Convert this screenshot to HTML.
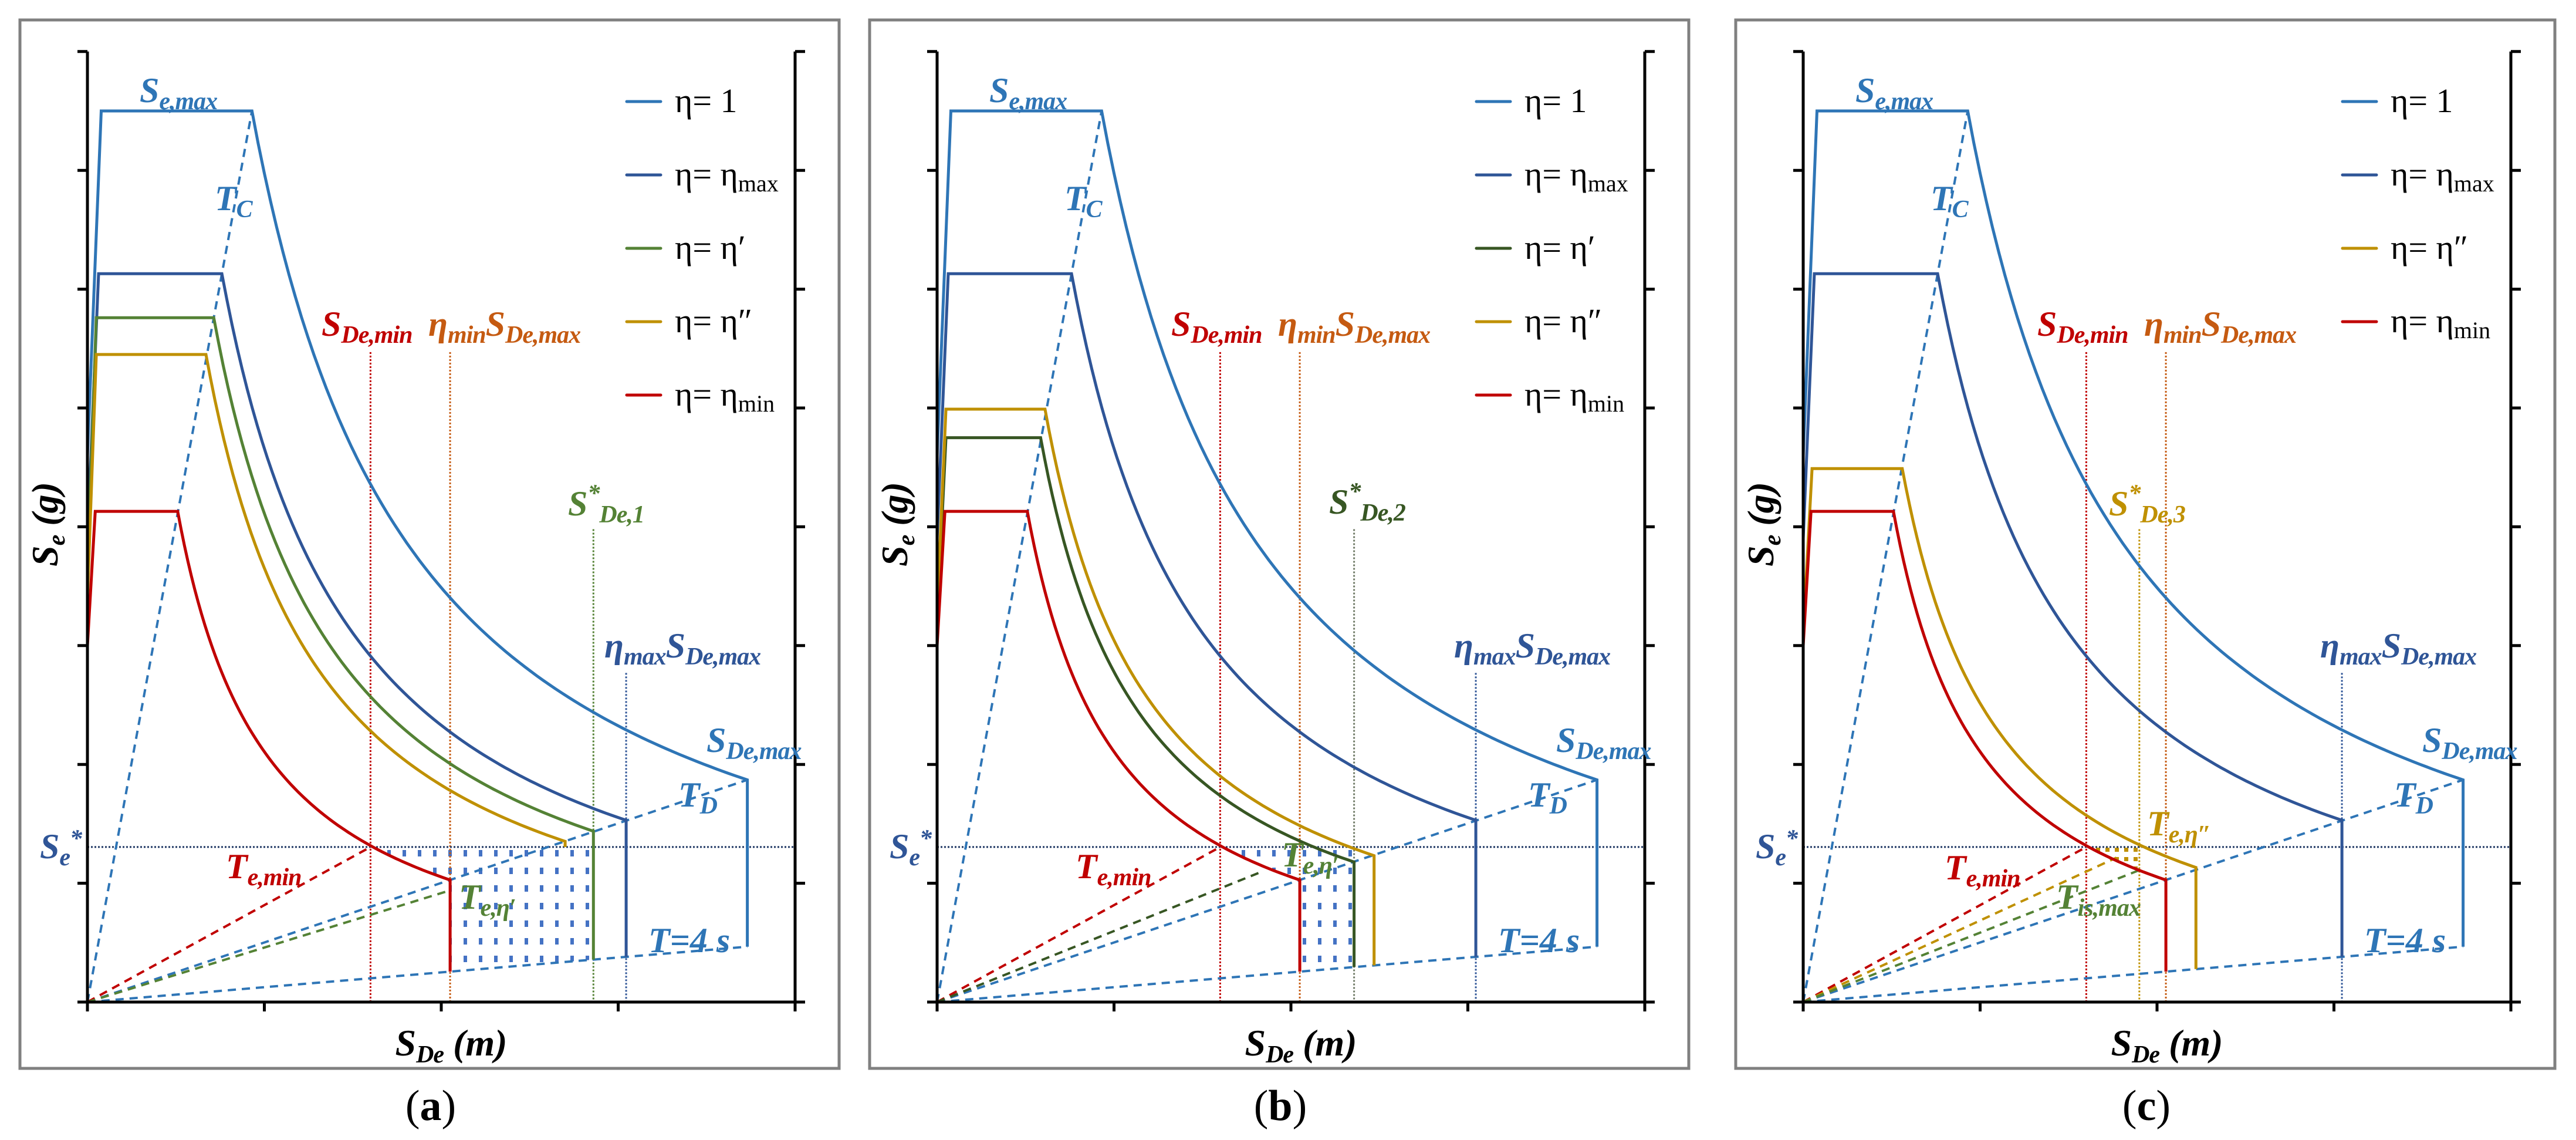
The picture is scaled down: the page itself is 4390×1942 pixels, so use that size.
<!DOCTYPE html>
<html><head><meta charset="utf-8"><title>ADRS spectra panels</title>
<style>
html,body{margin:0;padding:0;background:#fff;}
svg{display:block;}
.lbl{font-family:"Liberation Serif",serif;font-weight:bold;font-style:italic;font-size:60px;}
.sub{font-size:42px;letter-spacing:-1px;}
.leg{font-family:"Liberation Serif",serif;font-size:58px;fill:#000;}
.ttl{font-family:"Liberation Serif",serif;font-weight:bold;font-style:italic;font-size:64px;fill:#000;}
.cap{font-family:"Liberation Serif",serif;font-size:74px;fill:#000;}
</style></head>
<body>
<svg id="fig" xmlns="http://www.w3.org/2000/svg" width="4390" height="1942" viewBox="0 0 4390 1942">
<defs>
<pattern id="dotsBlue" width="26" height="30" patternUnits="userSpaceOnUse"><rect x="10" y="8" width="6" height="11" fill="#4472C4"/></pattern>
<pattern id="dotsGold" width="16" height="16" patternUnits="userSpaceOnUse"><rect x="4" y="4" width="7" height="7" fill="#BF9000"/></pattern>
</defs>
<rect x="0" y="0" width="4390" height="1942" fill="#fff"/>
<g id="plots"></g>

<g transform="translate(0,0)">
<text class="lbl" x="238" y="174" fill="#2E75B6">S<tspan class="sub" dy="12">e,max</tspan></text>
<text class="lbl" x="366" y="358" fill="#2E75B6">T<tspan class="sub" dy="12">C</tspan></text>
<text class="lbl" x="548" y="572" fill="#C00000">S<tspan class="sub" dy="12">De,min</tspan></text>
<text class="lbl" x="730" y="572" fill="#C55A11">η<tspan class="sub" dy="12">min</tspan><tspan dy="-12">S</tspan><tspan class="sub" dy="12">De,max</tspan></text>
<text class="lbl" x="968" y="878" fill="#548235">S<tspan class="sub" dy="-24">*</tspan><tspan class="sub" dy="36">De,1</tspan></text>
<text class="lbl" x="1030" y="1120" fill="#2F5597">η<tspan class="sub" dy="12">max</tspan><tspan dy="-12">S</tspan><tspan class="sub" dy="12">De,max</tspan></text>
<text class="lbl" x="1204" y="1281" fill="#2E75B6">S<tspan class="sub" dy="12">De,max</tspan></text>
<text class="lbl" x="1156" y="1374" fill="#2E75B6">T<tspan class="sub" dy="12">D</tspan></text>
<text class="lbl" x="68" y="1462" fill="#2F5597">S<tspan class="sub" dy="12">e</tspan><tspan class="sub" dy="-32">*</tspan></text>
<text class="lbl" x="385" y="1496" fill="#C00000">T<tspan class="sub" dy="12">e,min</tspan></text>
<text class="lbl" x="782" y="1548" fill="#548235">T<tspan class="sub" dy="12">e,η′</tspan></text>
<text class="lbl" x="1105" y="1622" fill="#2E75B6">T=4 s</text>
<text class="ttl" transform="translate(98,893) rotate(-90)" text-anchor="middle">S<tspan class="sub" dy="12">e</tspan><tspan dy="-12"> (g)</tspan></text>
<text class="ttl" x="769" y="1798" text-anchor="middle">S<tspan class="sub" dy="12">De</tspan><tspan dy="-12"> (m)</tspan></text>
<text class="cap" x="734" y="1908" text-anchor="middle">(<tspan font-weight="bold">a</tspan>)</text>
</g>

<g transform="translate(1448,0)">
<text class="lbl" x="238" y="174" fill="#2E75B6">S<tspan class="sub" dy="12">e,max</tspan></text>
<text class="lbl" x="366" y="358" fill="#2E75B6">T<tspan class="sub" dy="12">C</tspan></text>
<text class="lbl" x="548" y="572" fill="#C00000">S<tspan class="sub" dy="12">De,min</tspan></text>
<text class="lbl" x="730" y="572" fill="#C55A11">η<tspan class="sub" dy="12">min</tspan><tspan dy="-12">S</tspan><tspan class="sub" dy="12">De,max</tspan></text>
<text class="lbl" x="817" y="875" fill="#375623">S<tspan class="sub" dy="-24">*</tspan><tspan class="sub" dy="36">De,2</tspan></text>
<text class="lbl" x="1030" y="1120" fill="#2F5597">η<tspan class="sub" dy="12">max</tspan><tspan dy="-12">S</tspan><tspan class="sub" dy="12">De,max</tspan></text>
<text class="lbl" x="1204" y="1281" fill="#2E75B6">S<tspan class="sub" dy="12">De,max</tspan></text>
<text class="lbl" x="1156" y="1374" fill="#2E75B6">T<tspan class="sub" dy="12">D</tspan></text>
<text class="lbl" x="68" y="1462" fill="#2F5597">S<tspan class="sub" dy="12">e</tspan><tspan class="sub" dy="-32">*</tspan></text>
<text class="lbl" x="385" y="1496" fill="#C00000">T<tspan class="sub" dy="12">e,min</tspan></text>
<text class="lbl" x="736" y="1476" fill="#548235">T<tspan class="sub" dy="12">e,η′</tspan></text>
<text class="lbl" x="1105" y="1622" fill="#2E75B6">T=4 s</text>
<text class="ttl" transform="translate(98,893) rotate(-90)" text-anchor="middle">S<tspan class="sub" dy="12">e</tspan><tspan dy="-12"> (g)</tspan></text>
<text class="ttl" x="769" y="1798" text-anchor="middle">S<tspan class="sub" dy="12">De</tspan><tspan dy="-12"> (m)</tspan></text>
<text class="cap" x="734" y="1908" text-anchor="middle">(<tspan font-weight="bold">b</tspan>)</text>
</g>

<g transform="translate(2924,0)">
<text class="lbl" x="238" y="174" fill="#2E75B6">S<tspan class="sub" dy="12">e,max</tspan></text>
<text class="lbl" x="366" y="358" fill="#2E75B6">T<tspan class="sub" dy="12">C</tspan></text>
<text class="lbl" x="548" y="572" fill="#C00000">S<tspan class="sub" dy="12">De,min</tspan></text>
<text class="lbl" x="730" y="572" fill="#C55A11">η<tspan class="sub" dy="12">min</tspan><tspan dy="-12">S</tspan><tspan class="sub" dy="12">De,max</tspan></text>
<text class="lbl" x="670" y="878" fill="#BF9000">S<tspan class="sub" dy="-24">*</tspan><tspan class="sub" dy="36">De,3</tspan></text>
<text class="lbl" x="1030" y="1120" fill="#2F5597">η<tspan class="sub" dy="12">max</tspan><tspan dy="-12">S</tspan><tspan class="sub" dy="12">De,max</tspan></text>
<text class="lbl" x="1204" y="1281" fill="#2E75B6">S<tspan class="sub" dy="12">De,max</tspan></text>
<text class="lbl" x="1156" y="1374" fill="#2E75B6">T<tspan class="sub" dy="12">D</tspan></text>
<text class="lbl" x="68" y="1462" fill="#2F5597">S<tspan class="sub" dy="12">e</tspan><tspan class="sub" dy="-32">*</tspan></text>
<text class="lbl" x="390" y="1498" fill="#C00000">T<tspan class="sub" dy="12">e,min</tspan></text>
<text class="lbl" x="735" y="1423" fill="#BF9000">T<tspan class="sub" dy="12">e,η″</tspan></text>
<text class="lbl" x="580" y="1548" fill="#548235">T<tspan class="sub" dy="12">is,max</tspan></text>
<text class="lbl" x="1105" y="1622" fill="#2E75B6">T=4 s</text>
<text class="ttl" transform="translate(98,893) rotate(-90)" text-anchor="middle">S<tspan class="sub" dy="12">e</tspan><tspan dy="-12"> (g)</tspan></text>
<text class="ttl" x="769" y="1798" text-anchor="middle">S<tspan class="sub" dy="12">De</tspan><tspan dy="-12"> (m)</tspan></text>
<text class="cap" x="734" y="1908" text-anchor="middle">(<tspan font-weight="bold">c</tspan>)</text>
</g>
</svg>

<script>
// ---- data ----
const xTicks = [0, 1, 2, 3, 4];
const yTicks = [0, 1, 2, 3, 4, 5, 6, 7, 8];
const seStar = 1.305;
const tcEnd = [0.93, 7.5];
const tdEnd = [3.73, 1.87];
const t4End = [3.73, 0.466];

const aStart   = [4.6, 3.9, 3.6, 3.4, 3.0];
const aRise    = [0.078, 0.063, 0.05, 0.05, 0.044];
const aPlateau = [7.5, 6.13, 5.76, 5.45, 4.13];
const aCorner  = [0.93, 0.76, 0.714, 0.67, 0.51];
const aEnd     = [3.73, 3.045, 2.86, 2.70, 2.05];
const aDrop    = [0.466, 0.38, 0.357, 1.305, 0.256];
const aRefX    = [1.6, 2.05, 2.86, 3.045];
const aRefTop  = [5.47, 5.47, 3.98, 2.77];
const aDashX   = [1.6, 2.05];
const aDashY   = [1.305, 0.94];

const bStart   = [4.6, 3.9, 3.2, 3.3, 3.0];
const bRise    = [0.078, 0.063, 0.05, 0.05, 0.044];
const bPlateau = [7.5, 6.13, 4.75, 4.99, 4.13];
const bCorner  = [0.93, 0.76, 0.585, 0.61, 0.51];
const bEnd     = [3.73, 3.045, 2.357, 2.47, 2.05];
const bDrop    = [0.466, 0.38, 0.295, 0.309, 0.256];
const bRefX    = [1.6, 2.05, 2.357, 3.045];
const bRefTop  = [5.47, 5.47, 3.98, 2.77];
const bDashX   = [1.6, 1.84];
const bDashY   = [1.305, 1.10];

const cStart   = [4.6, 3.9, 3.1, 3.0];
const cRise    = [0.078, 0.063, 0.05, 0.044];
const cPlateau = [7.5, 6.13, 4.49, 4.13];
const cCorner  = [0.93, 0.76, 0.56, 0.51];
const cEnd     = [3.73, 3.045, 2.22, 2.05];
const cDrop    = [0.466, 0.38, 0.278, 0.256];
const cRefX    = [1.6, 2.05, 1.90, 3.045];
const cRefTop  = [5.47, 5.47, 3.98, 2.77];
const cDashX   = [1.6, 1.77, 1.90];
const cDashY   = [1.305, 1.215, 1.11];

const C1 = "#2E75B6", CMAX = "#2F5597", CG = "#548235", CDG = "#375623", CY = "#BF9000", CR = "#C00000", CO = "#C55A11", CN = "#203864";
const panels = [
  {ox:0, name:"a", start:aStart, rise:aRise, plateau:aPlateau, corner:aCorner, end:aEnd, drop:aDrop,
   colors:[C1,CMAX,CG,CY,CR], names:["eta-1","eta-max","eta-prime","eta-double-prime","eta-min"],
   legend:[["1",""],["η","max"],["η′",""],["η″",""],["η","min"]],
   refX:aRefX, refTop:aRefTop, refCol:[CR,CO,CG,CMAX], dashX:aDashX, dashY:aDashY, dashCol:[CR,CG],
   fill:{right:2.86, pat:"dotsBlue"}},
  {ox:1448, name:"b", start:bStart, rise:bRise, plateau:bPlateau, corner:bCorner, end:bEnd, drop:bDrop,
   colors:[C1,CMAX,CDG,CY,CR], names:["eta-1","eta-max","eta-prime","eta-double-prime","eta-min"],
   legend:[["1",""],["η","max"],["η′",""],["η″",""],["η","min"]],
   refX:bRefX, refTop:bRefTop, refCol:[CR,CO,"#6f7a66",CMAX], dashX:bDashX, dashY:bDashY, dashCol:[CR,CDG],
   fill:{right:2.357, pat:"dotsBlue"}},
  {ox:2924, name:"c", start:cStart, rise:cRise, plateau:cPlateau, corner:cCorner, end:cEnd, drop:cDrop,
   colors:[C1,CMAX,CY,CR], names:["eta-1","eta-max","eta-double-prime","eta-min"],
   legend:[["1",""],["η","max"],["η″",""],["η","min"]],
   refX:cRefX, refTop:cRefTop, refCol:[CR,CO,CY,CMAX], dashX:cDashX, dashY:cDashY, dashCol:[CR,CY,CG],
   fill:{right:1.90, pat:"dotsGold"}}
];

const NS = "http://www.w3.org/2000/svg";
const root = document.getElementById("plots");
function mk(tag, attrs, parent){
  const e = document.createElementNS(NS, tag);
  for (const k in attrs) e.setAttribute(k, attrs[k]);
  parent.appendChild(e);
  return e;
}
function fmt(n){return n.toFixed(1);}

panels.forEach(function(p){
  const X = u => p.ox + 149 + u * 301.5;
  const Y = v => 1707 - v * 202.4;
  const g = mk("g", {}, root);
  
  

  const fr = mk("rect", {x:p.ox+34, y:34, width:1396, height:1786, fill:"none", stroke:"#808080", "stroke-width":5}, g);
  
  

  const kRed = p.plateau[p.plateau.length-1] * p.corner[p.corner.length-1];
  const xRedEnd = p.end[p.end.length-1];
  const xCross = kRed / seStar;

  {
    let d = "M" + fmt(X(xCross)) + "," + fmt(Y(seStar));
    const xr = Math.min(p.fill.right, xRedEnd);
    for (let i = 1; i <= 30; i++){ const u = xCross + (xr - xCross) * i / 30; d += " L" + fmt(X(u)) + "," + fmt(Y(kRed/u)); }
    if (p.fill.right > xRedEnd){
      d += " L" + fmt(X(xRedEnd)) + "," + fmt(Y(p.drop[p.drop.length-1]));
      d += " L" + fmt(X(p.fill.right)) + "," + fmt(Y(p.fill.right * t4End[1] / t4End[0]));
    }
    d += " L" + fmt(X(p.fill.right)) + "," + fmt(Y(seStar)) + " Z";
    const f = mk("path", {d:d, fill:"url(#" + p.fill.pat + ")", stroke:"none"}, g);
    
    
  }

  p.refX.forEach(function(u, i){
    const l = mk("line", {x1:X(u), y1:Y(p.refTop[i]), x2:X(u), y2:Y(0), stroke:p.refCol[i], "stroke-width":3, "stroke-dasharray":"3 3"}, g);
    
    
  });

  const se = mk("line", {x1:X(0), y1:Y(seStar), x2:X(4), y2:Y(seStar), stroke:CN, "stroke-width":3, "stroke-dasharray":"3 3"}, g);
  
  

  [[tcEnd,"tc-line"],[tdEnd,"td-line"],[t4End,"t4s-line"]].forEach(function(pr){
    const l = mk("line", {x1:X(0), y1:Y(0), x2:X(pr[0][0]), y2:Y(pr[0][1]), stroke:C1, "stroke-width":4, "stroke-dasharray":"14 10"}, g);
    
    
  });
  p.dashX.forEach(function(u, i){
    const l = mk("line", {x1:X(0), y1:Y(0), x2:X(u), y2:Y(p.dashY[i]), stroke:p.dashCol[i], "stroke-width":4, "stroke-dasharray":"14 10"}, g);
    
    
  });

  p.plateau.forEach(function(pl, i){
    const k = pl * p.corner[i];
    let d = "M" + fmt(X(0)) + "," + fmt(Y(p.start[i]));
    d += " L" + fmt(X(p.rise[i])) + "," + fmt(Y(pl));
    d += " L" + fmt(X(p.corner[i])) + "," + fmt(Y(pl));
    for (let j = 1; j <= 80; j++){ const u = p.corner[i] + (p.end[i] - p.corner[i]) * j / 80; d += " L" + fmt(X(u)) + "," + fmt(Y(k/u)); }
    d += " L" + fmt(X(p.end[i])) + "," + fmt(Y(p.drop[i]));
    const c = mk("path", {d:d, fill:"none", stroke:p.colors[i], "stroke-width":5, "stroke-linejoin":"miter"}, g);
    
    
  });

  const ax = mk("g", {stroke:"#000", "stroke-width":5, fill:"none"}, g);
  
  
  const xl = mk("line", {x1:X(0)-16, y1:Y(0), x2:X(4)+17, y2:Y(0)}, ax);
  
  
  const yl = mk("line", {x1:X(0), y1:Y(8), x2:X(0), y2:Y(0)+16}, ax);
  
  
  const yr = mk("line", {x1:X(4), y1:Y(8), x2:X(4), y2:Y(0)+16}, ax);
  
  
  xTicks.forEach(function(t){
    const tk = mk("line", {x1:X(t), y1:Y(0), x2:X(t), y2:Y(0)+16}, ax);
    
    
  });
  yTicks.forEach(function(t){
    const tl = mk("line", {x1:X(0)-17, y1:Y(t), x2:X(0), y2:Y(t)}, ax);
    
    
    const tr = mk("line", {x1:X(4), y1:Y(t), x2:X(4)+17, y2:Y(t)}, ax);
    
    
  });

  p.legend.forEach(function(lg, i){
    const y = 173 + i * 125;
    const ln = mk("line", {x1:p.ox+1068, y1:y, x2:p.ox+1126, y2:y, stroke:p.colors[i], "stroke-width":5, "stroke-linecap":"round"}, g);
    
    
    const t = mk("text", {x:p.ox+1150, y:y+18, "class":"leg"}, g);
    
    
    t.appendChild(document.createTextNode("η= " + lg[0]));
    if (lg[1]){
      const s = mk("tspan", {"font-size":40, dy:10}, t);
      s.appendChild(document.createTextNode(lg[1]));
    }
  });
});
</script>
</body></html>
